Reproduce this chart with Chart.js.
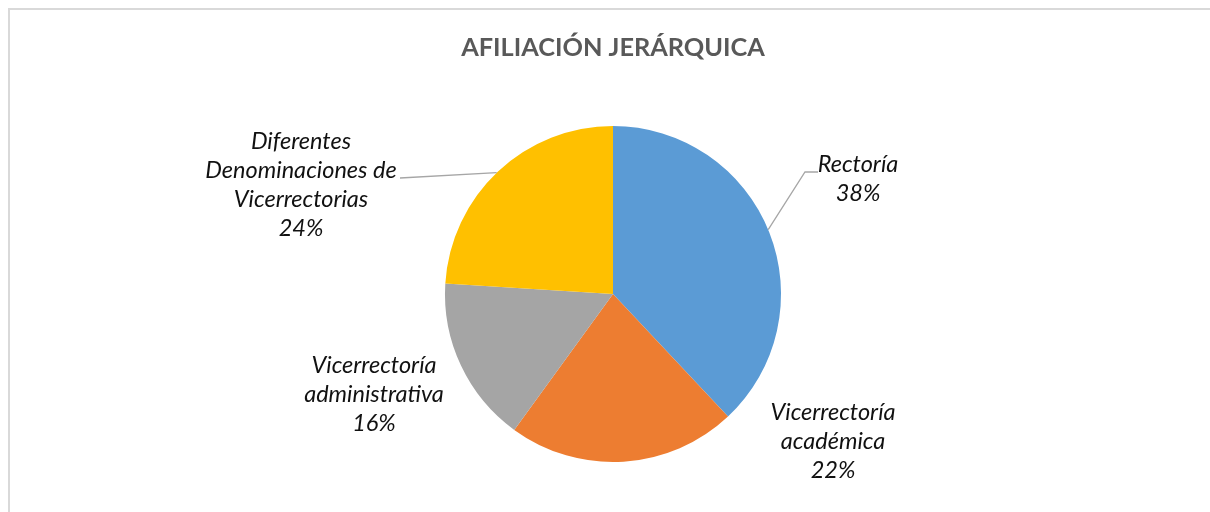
<!DOCTYPE html>
<html>
<head>
<meta charset="utf-8">
<script src="https://cdn.jsdelivr.net/npm/chart.js@4/dist/chart.umd.min.js"></script>
<style>
  html, body { margin: 0; padding: 0; background: #ffffff; overflow: hidden; }
  #wrap { width: 1210px; height: 512px; position: relative; overflow: hidden; }
  canvas { display: block; }
</style>
</head>
<body>
<div id="wrap"><canvas id="c" width="1210" height="512"></canvas></div>
<script>
// ---- data ----
const categories = [
  "Rectoría",
  "Vicerrectoría académica",
  "Vicerrectoría administrativa",
  "Diferentes Denominaciones de Vicerrectorias"
];
const values = [38, 22, 16, 24];
const labelLines = [
  ["Rectoría"],
  ["Vicerrectoría", "académica"],
  ["Vicerrectoría", "administrativa"],
  ["Diferentes", "Denominaciones de", "Vicerrectorias"]
];
const titleText = "AFILIACIÓN JERÁRQUICA";

// ---- style / layout ----
const colors = ["#5B9BD5", "#ED7D31", "#A5A5A5", "#FFC000"];
// label block centre offsets from pie centre (px)
const labelOffsets = [[245, -115], [220, 147], [-239, 100], [-312, -109.5]];
// leader line extra points (relative to pie centre); start is on the arc edge
const leaders = [
  { angleDeg: -22.5, pts: [[192, -122], [205, -122]] },
  null,
  null,
  { angleDeg: -133.8, pts: [[-213, -116]] }
];
const labelFont = "italic 23.5px Lato, 'Open Sans', sans-serif";
const lineH = 29;

const labelPlugin = {
  id: "pieLabels",
  beforeDraw(chart) {
    const ctx = chart.ctx;
    ctx.save();
    ctx.strokeStyle = "#d9d9d9";
    ctx.lineWidth = 2;
    ctx.beginPath();
    ctx.moveTo(9, 600);
    ctx.lineTo(9, 9);
    ctx.lineTo(1300, 9);
    ctx.stroke();
    ctx.restore();
  },
  afterDatasetsDraw(chart) {
    const ctx = chart.ctx;
    const meta = chart.getDatasetMeta(0);
    const totals = values.reduce((a, b) => a + b, 0);
    ctx.save();
    meta.data.forEach((arc, i) => {
      const cx = arc.x, cy = arc.y, r = arc.outerRadius;
      const ld = leaders[i];
      if (ld) {
        const a = ld.angleDeg * Math.PI / 180;
        ctx.beginPath();
        ctx.moveTo(cx + r * Math.cos(a), cy + r * Math.sin(a));
        ld.pts.forEach(p => ctx.lineTo(cx + p[0], cy + p[1]));
        ctx.strokeStyle = "#a6a6a6";
        ctx.lineWidth = 1.3;
        ctx.stroke();
      }
      const lines = labelLines[i].concat([Math.round(values[i] / totals * 100) + "%"]);
      const bx = cx + labelOffsets[i][0];
      const by = cy + labelOffsets[i][1];
      ctx.font = labelFont;
      ctx.fillStyle = "#111111";
      ctx.textAlign = "center";
      ctx.textBaseline = "middle";
      const n = lines.length;
      lines.forEach((t, k) => {
        ctx.fillText(t, bx, by + (k - (n - 1) / 2) * lineH);
      });
    });
    ctx.restore();
  }
};

new Chart(document.getElementById("c"), {
  type: "pie",
  data: {
    labels: categories,
    datasets: [{
      data: values,
      backgroundColor: colors,
      borderWidth: 0
    }]
  },
  options: {
    responsive: false,
    animation: false,
    events: [],
    layout: { padding: { top: 0, bottom: 50, left: 16, right: 0 } },
    plugins: {
      legend: { display: false },
      tooltip: { enabled: false },
      title: {
        display: true,
        text: titleText,
        color: "#595959",
        font: { family: "Lato, 'Open Sans', sans-serif", size: 25.3, weight: "bold", lineHeight: 1.2 },
        padding: { top: 33, bottom: 62.6 }
      }
    }
  },
  plugins: [labelPlugin]
});
</script>
</body>
</html>
